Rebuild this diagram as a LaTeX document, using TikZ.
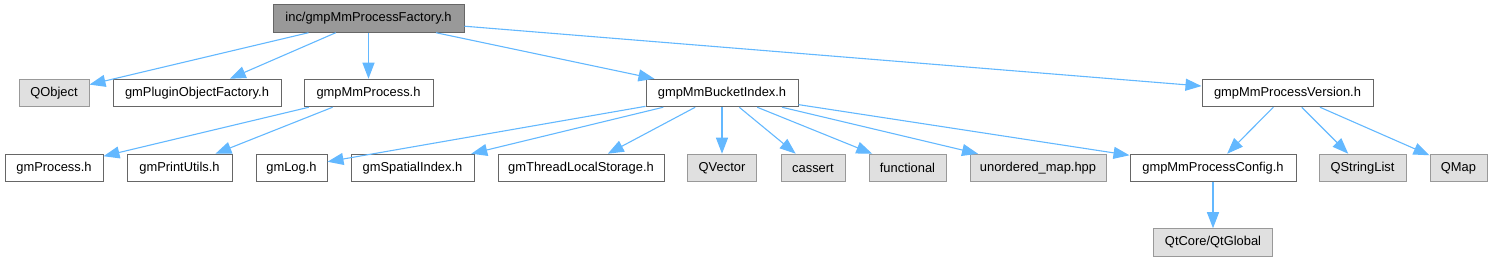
\documentclass[tikz,border=0pt]{standalone}
\usepackage{fontspec}
\setmainfont{Liberation Sans}
\usetikzlibrary{arrows.meta}
\definecolor{edgeblue}{HTML}{63B8FF}
\definecolor{bordergray}{HTML}{666666}
\definecolor{extborder}{HTML}{999999}
\definecolor{extfill}{HTML}{E0E0E0}
\definecolor{rootfill}{HTML}{999999}
\tikzset{
  box/.style={draw=bordergray, line width=1pt, fill=white, minimum height=27.5pt, inner sep=0pt, font=\fontsize{12.9}{15}\selectfont, text=black},
  extbox/.style={box, draw=extborder, fill=extfill},
  rootbox/.style={box, fill=rootfill},
  edge/.style={draw=edgeblue, line width=1.1pt, -{Triangle[length=16pt,width=12pt]}},
}
\begin{document}
\begin{tikzpicture}[x=1pt,y=-1pt]
\useasboundingbox (0,0) rectangle (1492,261);
\node[rootbox, minimum width=191pt] (root) at (368.5,18.5) {inc/gmpMmProcessFactory.h};
% row 1
\node[extbox, minimum width=70pt] (qobject) at (54,93) {QObject};
\node[box, minimum width=168pt] (plugin) at (197,93) {gmPluginObjectFactory.h};
\node[box, minimum width=129pt] (process) at (368.5,93) {gmpMmProcess.h};
\node[box, minimum width=152pt] (bucket) at (722,93) {gmpMmBucketIndex.h};
\node[box, minimum width=171pt] (version) at (1287.5,93) {gmpMmProcessVersion.h};
% row 2
\node[box, minimum width=98pt] (gmprocess) at (54,168) {gmProcess.h};
\node[box, minimum width=105pt] (printutils) at (179.5,168) {gmPrintUtils.h};
\node[box, minimum width=71pt] (gmlog) at (291.5,168) {gmLog.h};
\node[box, minimum width=123pt] (spatial) at (412.5,168) {gmSpatialIndex.h};
\node[box, minimum width=166pt] (tls) at (581,168) {gmThreadLocalStorage.h};
\node[extbox, minimum width=69pt] (qvector) at (722,168) {QVector};
\node[extbox, minimum width=64pt] (cassert) at (813,168) {cassert};
\node[extbox, minimum width=77pt] (functional) at (907.5,168) {functional};
\node[extbox, minimum width=136pt] (umap) at (1038,168) {unordered\_map.hpp};
\node[box, minimum width=166pt] (config) at (1213,168) {gmpMmProcessConfig.h};
\node[extbox, minimum width=87pt] (qstringlist) at (1362.5,168) {QStringList};
\node[extbox, minimum width=57pt] (qmap) at (1458.5,168) {QMap};
% row 3
\node[extbox, minimum width=119pt] (qtglobal) at (1213,242.5) {QtCore/QtGlobal};
% edges
\draw[edge] (root) -- (qobject);
\draw[edge] (root) -- (plugin);
\draw[edge] (root) -- (process);
\draw[edge] (root) -- (bucket);
\draw[edge] (root) -- (version);
\draw[edge] (process) -- (gmprocess);
\draw[edge] (process) -- (printutils);
\draw[edge] (bucket) -- (gmlog);
\draw[edge] (bucket) -- (spatial);
\draw[edge] (bucket) -- (tls);
\draw[edge] (bucket) -- (qvector);
\draw[edge] (bucket) -- (cassert);
\draw[edge] (bucket) -- (functional);
\draw[edge] (bucket) -- (umap);
\draw[edge] (bucket) -- (config);
\draw[edge] (version) -- (config);
\draw[edge] (version) -- (qstringlist);
\draw[edge] (version) -- (qmap);
\draw[edge] (config) -- (qtglobal);
\end{tikzpicture}
\end{document}
